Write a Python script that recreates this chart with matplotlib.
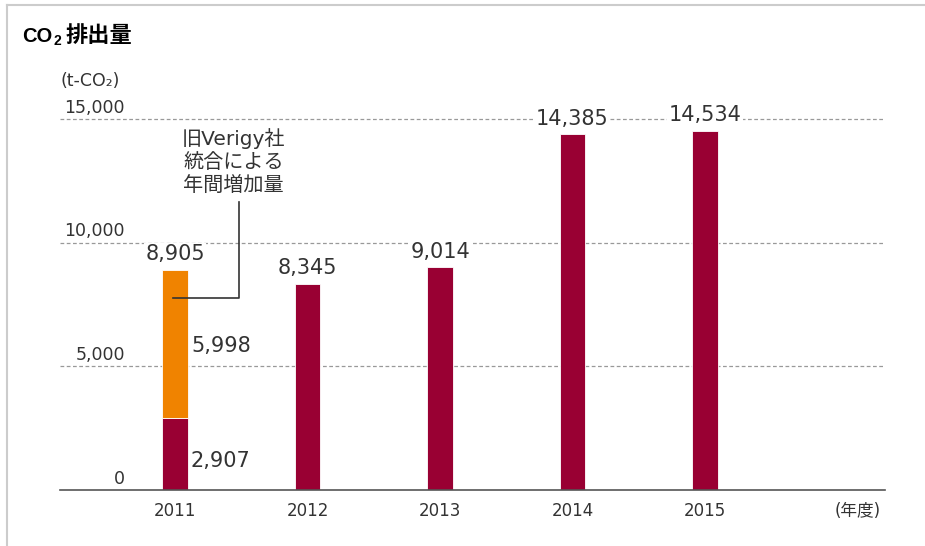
import matplotlib
matplotlib.use("Agg")
import matplotlib.pyplot as plt
from matplotlib.lines import Line2D

plt.rcParams['font.family'] = ['DejaVu Sans', 'Noto Sans CJK JP']

# data
years = ["2011", "2012", "2013", "2014", "2015"]
base = [2907, 8345, 9014, 14385, 14534]
verigy = [5998, 0, 0, 0, 0]
totals = ["8,905", "8,345", "9,014", "14,385", "14,534"]
yticks = [0, 5000, 10000, 15000]
ytick_labels = ["0", "5,000", "10,000", "15,000"]

RED = "#990033"
ORANGE = "#f08300"
TXT = "#333333"

W, H = 925, 546
fig = plt.figure(figsize=(W / 100, H / 100), dpi=100)

# outer frame (top + left)
fig.add_artist(Line2D([7 / W, 7 / W], [0, 1 - 5 / H], color="#cccccc", lw=1.5))
fig.add_artist(Line2D([7 / W, 1], [1 - 5 / H, 1 - 5 / H], color="#cccccc", lw=1.5))

ax = fig.add_axes([60 / W, (H - 490) / H, 825 / W, 390 / H])
ax.set_xlim(-0.868, 5.358)
ax.set_ylim(0, 390 / 371 * 15000)
for s in ["top", "right", "left"]:
    ax.spines[s].set_visible(False)
ax.spines["bottom"].set_color("#555555")
ax.spines["bottom"].set_linewidth(1.2)
ax.set_yticks([])
ax.set_xticks([])

# dashed gridlines
for v in yticks[1:]:
    ax.axhline(v, color="#999999", lw=0.9, ls=(0, (3, 2)), zorder=0)

# y labels (right aligned, above gridlines)
for v, lab in zip(yticks, ytick_labels):
    ax.text(-0.377, v + 260, lab, ha="right", va="baseline", fontsize=12.5, color=TXT)
fig.text(60 / W, 1 - 81 / H, "(t-CO₂)", ha="left", va="center", fontsize=12.5, color=TXT)

x = list(range(len(years)))
bw = 0.19
ax.bar(x, base, width=bw, color=RED, edgecolor="white", linewidth=0.6, zorder=2)
ax.bar(x[0], verigy[0], bottom=base[0], width=bw, color=ORANGE, edgecolor="white",
       linewidth=0.6, zorder=2)

# value labels
for i in range(len(years)):
    top = base[i] + verigy[i]
    ax.text(i, top + 380, totals[i], ha="center", va="baseline", fontsize=15, color=TXT,
            bbox=dict(facecolor="white", edgecolor="none", pad=1), zorder=3)
ax.text(0.12, 5580, "5,998", ha="left", va="baseline", fontsize=15, color=TXT)
ax.text(0.12, 930, "2,907", ha="left", va="baseline", fontsize=15, color=TXT)

# year labels
for i, y in enumerate(years):
    ax.text(i, -470, y, ha="center", va="top", fontsize=12, color=TXT)
ax.text(5.155, -470, "(年度)", ha="center", va="top", fontsize=12, color=TXT)

# annotation for Verigy
ax.text(0.44, 14650, "旧Verigy社\n統合による\n年間増加量", ha="center", va="top",
        fontsize=14.5, color=TXT, linespacing=1.27)
ax.plot([0.483, 0.483, -0.015], [11646, 7764, 7764], color="#333333", lw=1.2, zorder=4)

# title
fig.text(22 / W, 1 - 36 / H, "CO", fontsize=14.5, fontweight="bold", family="Liberation Sans",
         ha="left", va="center", color="black")
fig.text(53 / W, 1 - 41 / H, "2", fontsize=10, fontweight="bold", family="Liberation Sans",
         ha="left", va="center", color="black")
fig.text(66 / W, 1 - 36 / H, "排出量", fontsize=16, fontweight="bold", family="Noto Sans CJK JP",
         ha="left", va="center", color="black")

fig.savefig("out.png", dpi=100)
